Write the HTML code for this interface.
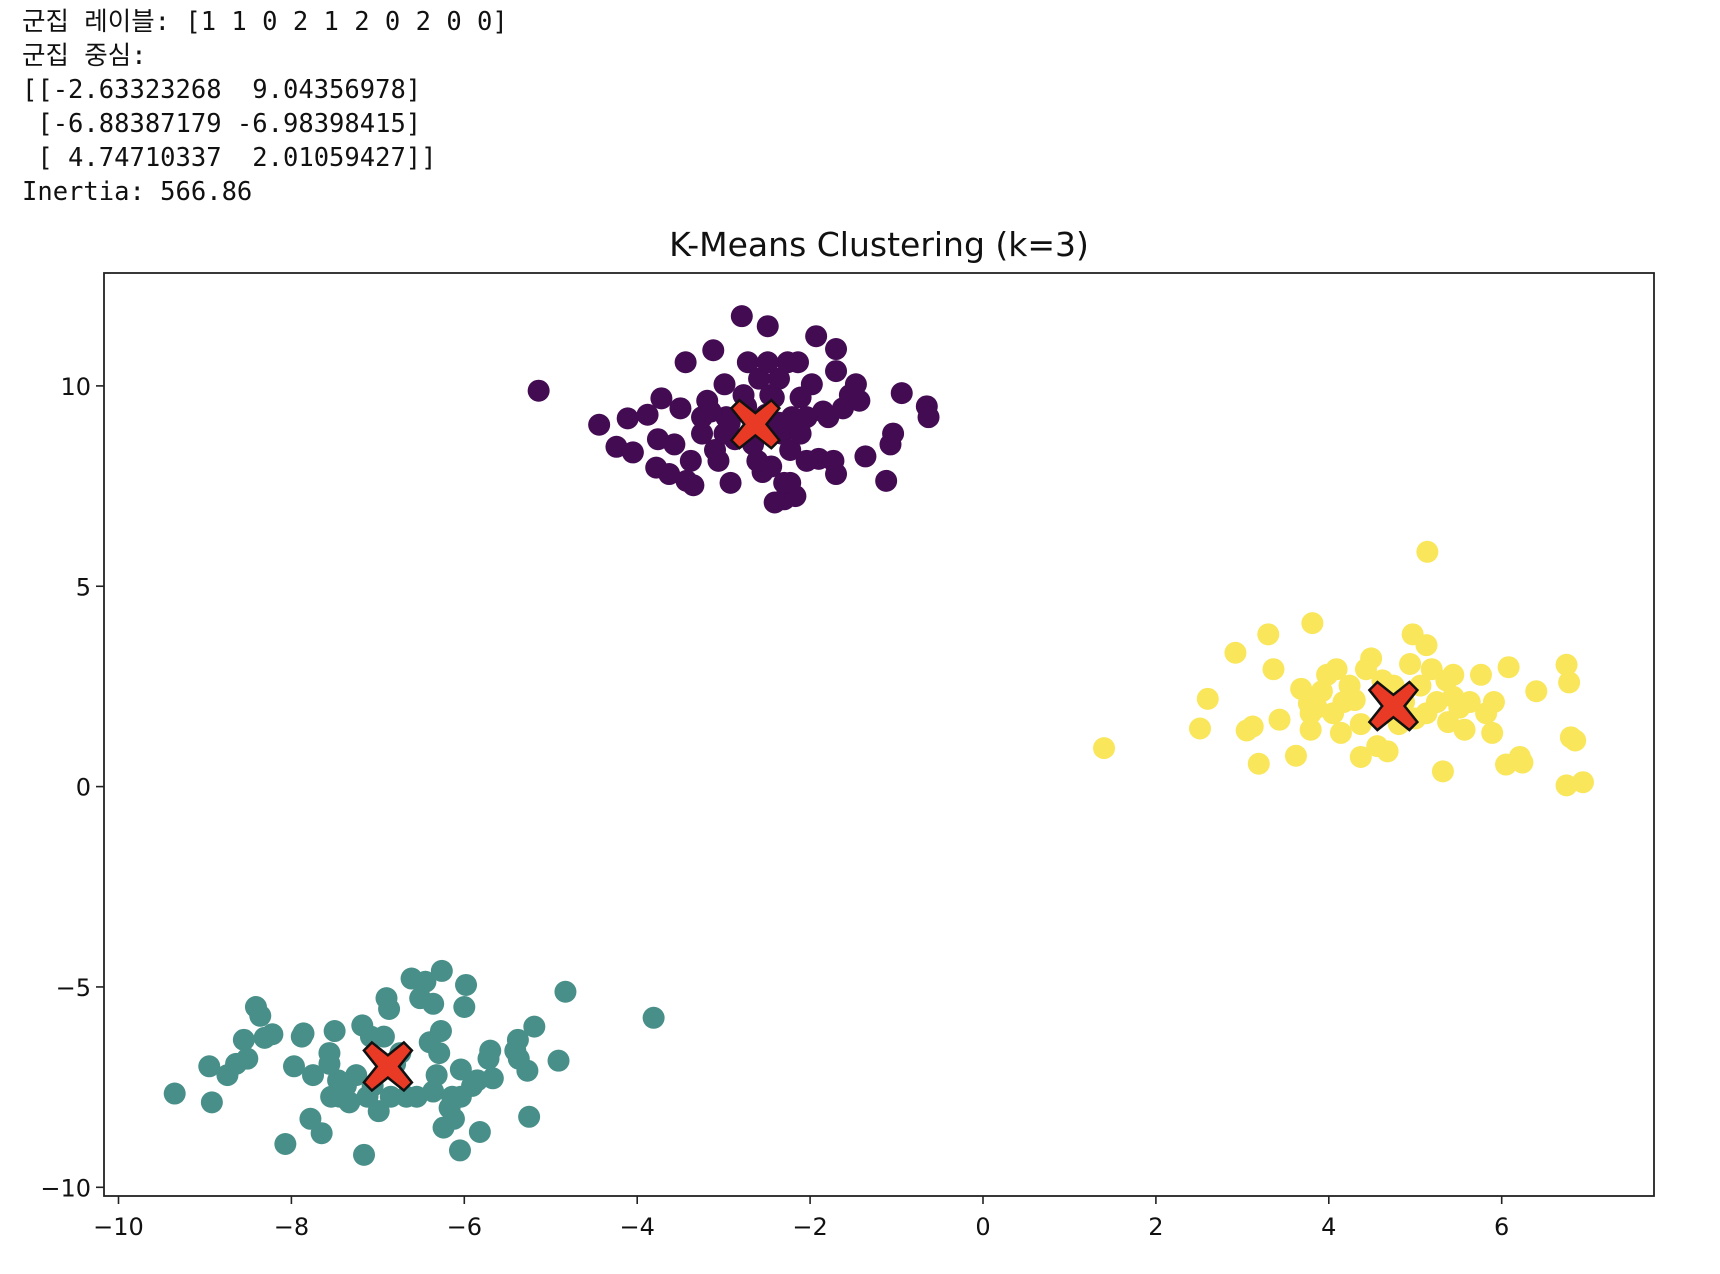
<!DOCTYPE html>
<html><head><meta charset="utf-8">
<style>
html,body{margin:0;padding:0;background:#fff;width:1720px;height:1274px;overflow:hidden;}
#out{position:absolute;left:22px;top:5px;font-family:"DejaVu Sans Mono","Liberation Mono","Noto Sans CJK KR",monospace;font-size:25.5px;line-height:34px;white-space:pre;color:#111;}
svg{position:absolute;left:0;top:0;}
</style></head><body>
<div id="out">군집 레이블: [1 1 0 2 1 2 0 2 0 0]
군집 중심:
[[-2.63323268  9.04356978]
 [-6.88387179 -6.98398415]
 [ 4.74710337  2.01059427]]
Inertia: 566.86</div>
<svg id="chart" width="1720" height="1274"></svg>
<script>
const xTicks=[-10,-8,-6,-4,-2,0,2,4,6];
const yTicks=[-10,-5,0,5,10];
const c0x=[-5.14,-4.44,-4.24,-4.11,-4.05,-3.88,-3.78,-3.72,-3.63,-3.57,-3.50,-3.44,-3.43,-3.35,-3.25,-3.19,-3.12,-3.10,-2.99,-2.97,-2.92,-2.87,-2.79,-2.77,-2.72,-2.66,-2.59,-2.55,-2.51,-2.49,-2.46,-2.45,-2.41,-2.36,-2.33,-2.30,-2.26,-2.23,-2.21,-2.17,-2.14,-2.11,-2.04,-1.98,-1.93,-1.90,-1.85,-1.79,-1.73,-1.70,-1.70,-1.70,-1.62,-1.54,-1.47,-1.43,-1.36,-1.12,-1.07,-1.04,-0.94,-0.65,-0.63,-2.04,-2.23,-2.61,-3.06,-3.25,-3.76,-3.38,-2.42,-2.30,-2.74,-2.93,-3.15,-2.49,-2.11,-2.36,-2.99];
const c0y=[9.88,9.03,8.48,9.19,8.34,9.28,7.96,9.69,7.80,8.54,9.44,10.59,7.63,7.52,8.81,9.63,10.89,8.40,10.04,9.22,7.58,8.67,11.74,9.77,10.59,8.54,10.18,7.85,9.28,11.49,9.77,7.99,7.09,10.18,8.81,7.17,10.59,8.40,9.22,7.25,10.59,8.81,9.22,10.04,11.24,8.18,9.36,9.22,8.13,10.92,7.80,10.37,9.44,9.77,10.04,9.63,8.24,7.63,8.54,8.81,9.82,9.49,9.22,8.13,7.58,8.13,8.13,9.22,8.67,8.13,9.71,7.58,9.49,9.08,9.36,10.59,9.71,9.08,8.81];
const c1x=[-9.35,-8.95,-8.92,-8.74,-8.64,-8.55,-8.51,-8.41,-8.36,-8.31,-8.22,-8.07,-7.97,-7.88,-7.86,-7.78,-7.75,-7.65,-7.56,-7.56,-7.50,-7.46,-7.44,-7.37,-7.33,-7.25,-7.18,-7.16,-7.12,-7.08,-6.99,-6.93,-6.90,-6.87,-6.80,-6.74,-6.67,-6.61,-6.55,-6.51,-6.45,-6.40,-6.36,-6.32,-6.29,-6.27,-6.24,-6.17,-6.14,-6.12,-6.05,-6.04,-6.00,-5.98,-5.91,-5.85,-5.82,-5.72,-5.70,-5.67,-5.41,-5.38,-5.37,-5.27,-5.25,-5.19,-4.91,-4.83,-3.81,-6.26,-7.54,-7.06,-6.36,-6.85,-6.04];
const c1y=[-7.66,-6.98,-7.88,-7.20,-6.92,-6.32,-6.79,-5.50,-5.72,-6.27,-6.18,-8.92,-6.98,-6.24,-6.16,-8.29,-7.20,-8.65,-6.65,-6.92,-6.10,-7.33,-7.74,-7.47,-7.88,-7.20,-5.96,-9.19,-7.74,-6.24,-8.10,-6.24,-5.28,-5.55,-6.92,-6.65,-7.74,-4.79,-7.74,-5.28,-4.87,-6.38,-5.42,-7.20,-6.65,-6.10,-8.51,-8.02,-7.74,-8.29,-9.08,-7.06,-5.50,-4.95,-7.47,-7.33,-8.62,-6.79,-6.59,-7.28,-6.59,-6.32,-6.79,-7.09,-8.24,-5.99,-6.84,-5.12,-5.77,-4.60,-7.74,-7.47,-7.61,-7.74,-7.74];
const c2x=[1.40,2.51,2.60,2.92,3.05,3.12,3.19,3.30,3.36,3.43,3.62,3.68,3.77,3.81,3.79,3.86,3.92,3.98,4.09,4.14,4.17,4.24,4.37,4.43,4.49,4.56,4.62,4.68,4.75,4.81,4.87,4.97,5.00,5.06,5.13,5.14,5.19,5.25,5.32,5.36,5.44,5.51,5.57,5.63,5.76,5.82,5.89,5.91,6.05,6.08,6.21,6.24,6.40,6.75,6.78,6.75,6.80,6.85,6.94,3.79,4.05,4.37,5.38,4.94,4.30,5.44,5.13];
const c2y=[0.96,1.45,2.19,3.34,1.40,1.50,0.57,3.80,2.93,1.67,0.77,2.44,2.08,4.08,1.42,1.97,2.38,2.79,2.93,1.34,2.11,2.52,0.74,2.93,3.20,1.01,2.65,0.88,2.52,1.56,2.11,3.80,1.70,2.52,3.53,5.86,2.93,2.11,0.38,2.65,2.24,1.97,1.42,2.11,2.79,1.83,1.34,2.11,0.55,2.98,0.74,0.60,2.38,3.04,2.60,0.03,1.23,1.15,0.11,1.83,1.83,1.56,1.61,3.06,2.16,2.79,1.83];
const centerX=[-2.63323268,-6.88387179,4.74710337];
const centerY=[9.04356978,-6.98398415,2.01059427];
const colors=['#430b52','#488f89','#f9e65b'];

const NS='http://www.w3.org/2000/svg';
const svg=document.getElementById('chart');
const L=104,R=1654,T=273,B=1196;
const sx=v=>983+v*86.45;
const sy=v=>786.6-v*40.07;
function mk(tag,attrs,parent){const e=document.createElementNS(NS,tag);for(const k in attrs)e.setAttribute(k,attrs[k]);(parent||svg).appendChild(e);return e;}

const title=mk('text',{x:(L+R)/2,y:256,'text-anchor':'middle','font-family':'DejaVu Sans, Liberation Sans, sans-serif','font-size':33,fill:'#111'});


title.textContent='K-Means Clustering (k=3)';

const pts=mk('g',{});


[[c0x,c0y],[c1x,c1y],[c2x,c2y]].forEach((s,ci)=>{
  const g=mk('g',{fill:colors[ci]},pts);
  
  
  s[0].forEach((x,i)=>{
    const c=mk('circle',{cx:sx(x),cy:sy(s[1][i]),r:11},g);
    
    
  });
});

centerX.forEach((x,i)=>{
  const cx=sx(x),cy=sy(centerY[i]),a=24,w=8;
  const p=[[-a+w,-a],[0,-w*1.4],[a-w,-a],[a,-a+w],[w*1.4,0],[a,a-w],[a-w,a],[0,w*1.4],[-a+w,a],[-a,a-w],[-w*1.4,0],[-a,-a+w]];
  const poly=mk('polygon',{points:p.map(q=>(cx+q[0])+','+(cy+q[1])).join(' '),fill:'#e83a25',stroke:'#111','stroke-width':2.5,'stroke-linejoin':'miter'});
  
  
});

const frame=mk('rect',{x:L,y:T,width:R-L,height:B-T,fill:'none',stroke:'#222','stroke-width':1.8});



xTicks.forEach(v=>{
  const x=sx(v);
  const t=mk('line',{x1:x,x2:x,y1:B,y2:B+8,stroke:'#222','stroke-width':1.6});
  
  
  const l=mk('text',{x:x,y:B+39,'text-anchor':'middle','font-family':'DejaVu Sans, Liberation Sans, sans-serif','font-size':24,fill:'#111'});
  
  
  l.textContent=String(v).replace('-','\u2212');
});
yTicks.forEach(v=>{
  const y=sy(v);
  const t=mk('line',{x1:L-8,x2:L,y1:y,y2:y,stroke:'#222','stroke-width':1.6});
  
  
  const l=mk('text',{x:L-13,y:y+9,'text-anchor':'end','font-family':'DejaVu Sans, Liberation Sans, sans-serif','font-size':24,fill:'#111'});
  
  
  l.textContent=String(v).replace('-','\u2212');
});
</script>
</body></html>
